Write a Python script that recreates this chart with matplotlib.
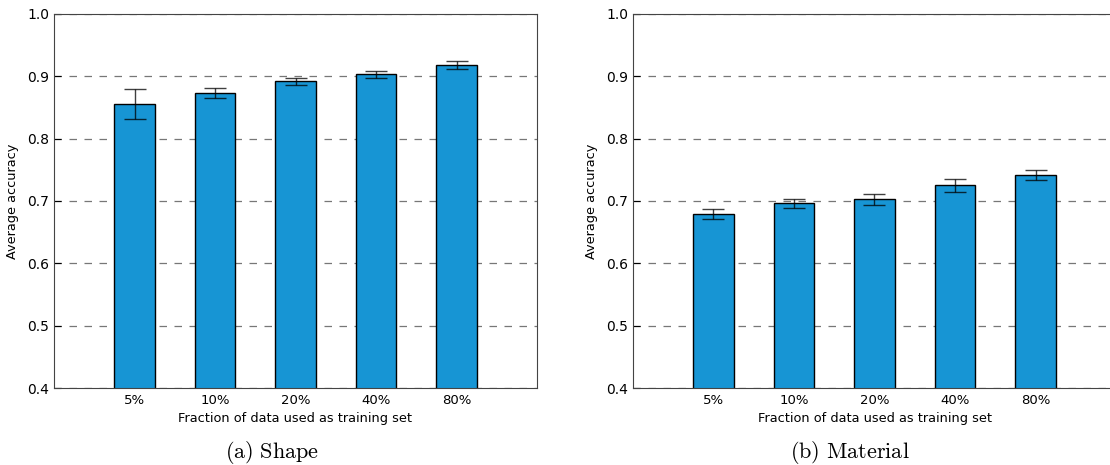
import matplotlib
matplotlib.use("Agg")
import matplotlib.pyplot as plt
import numpy as np

fractions = ["5%", "10%", "20%", "40%", "80%"]

shape_acc = [0.855, 0.874, 0.892, 0.903, 0.918]
shape_err = [0.024, 0.008, 0.006, 0.006, 0.007]

material_acc = [0.679, 0.696, 0.703, 0.725, 0.742]
material_err = [0.008, 0.008, 0.009, 0.010, 0.008]

captions = ["(a) Shape", "(b) Material"]

BAR = "#1795D4"
W, H = 1110, 465

plt.rcParams.update({
    "font.family": "DejaVu Sans",
    "mathtext.fontset": "cm",
})

fig = plt.figure(figsize=(W / 100, H / 100), dpi=100)

def make_axes(x0, x1, y0=14, y1=388):
    return fig.add_axes([x0 / W, 1 - y1 / H, (x1 - x0) / W, (y1 - y0) / H])

axes = [make_axes(54, 537), make_axes(633, 1116)]
data = [(shape_acc, shape_err), (material_acc, material_err)]

for ax, (acc, err) in zip(axes, data):
    x = np.arange(len(fractions))
    ax.bar(x, acc, width=0.5, color=BAR, edgecolor="black", linewidth=1.0, zorder=2)
    ax.errorbar(x, acc, yerr=err, fmt="none", ecolor="black", elinewidth=1.0,
                capsize=8, capthick=1.0, alpha=0.75, zorder=3)
    ax.set_xlim(-1, 5)
    ax.set_ylim(0.4, 1.0)
    ax.set_xticks(x)
    ax.set_xticklabels(fractions, fontsize=9.5)
    ax.set_yticks(np.arange(0.4, 1.01, 0.1))
    ax.set_yticklabels([f"{v:.1f}" for v in np.arange(0.4, 1.01, 0.1)], fontsize=10)
    ax.tick_params(axis="x", length=0, pad=4)
    ax.tick_params(axis="y", direction="in", length=5, right=False)
    ax.yaxis.grid(True, linestyle=(0, (6, 6)), color="#777777", linewidth=0.9, zorder=0)
    ax.set_axisbelow(True)
    for s in ax.spines.values():
        s.set_color("#444444")
    ax.set_xlabel("Fraction of data used as training set", fontsize=9.3, labelpad=4)
    ax.set_ylabel("Average accuracy", fontsize=9.3, labelpad=6)

for cx, cap in zip([272, 850], captions):
    fig.text(cx / W, 1 - 452 / H, r"$\mathrm{" + cap.replace(" ", r"\ ") + "}$",
             ha="center", va="center", fontsize=16)

fig.savefig("out.png", dpi=100)
